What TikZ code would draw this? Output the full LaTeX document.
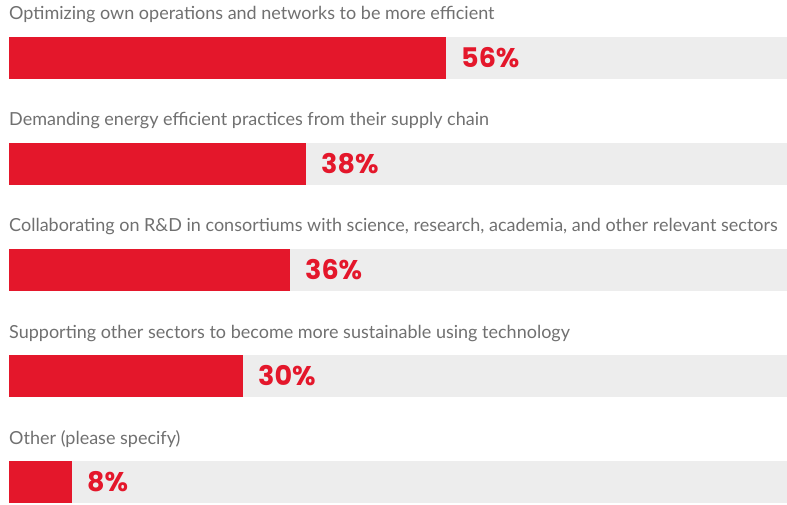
\documentclass[tikz,border=0pt]{standalone}
\usepackage{fontspec}
\setmainfont{Lato}
\newfontfamily\pctfont{Poppins}

\definecolor{barred}{HTML}{E4172B}
\definecolor{bargray}{HTML}{EDEDED}
\definecolor{labelgray}{HTML}{707070}

\tikzset{
  track/.style={fill=bargray},
  share/.style={fill=barred},
  question/.style={anchor=base west, inner sep=0pt, text=labelgray,
    font=\fontsize{18}{21}\selectfont},
  pct/.style={anchor=west, inner sep=0pt, text=barred,
    font=\pctfont\bfseries\fontsize{27}{30}\selectfont}
}

\begin{document}
\begin{tikzpicture}[x=1pt, y=-1pt]
\useasboundingbox (0,0) rectangle (787,505);
% bar 1
\node[question] (q1) at (9,20) {Optimizing own operations and networks to be more efficient};
\fill[track] (9,37) rectangle (787,79);
\fill[share] (9,37) rectangle (446,79);
\node[pct] (p1) at (461,58) {56\%};
% bar 2
\node[question] (q2) at (9,126) {Demanding energy efficient practices from their supply chain};
\fill[track] (9,143) rectangle (787,185);
\fill[share] (9,143) rectangle (306,185);
\node[pct] (p2) at (321,164) {38\%};
% bar 3
\node[question] (q3) at (9,232) {Collaborating on R\&D in consortiums with science, research, academia, and other relevant sectors};
\fill[track] (9,249) rectangle (787,291);
\fill[share] (9,249) rectangle (290,291);
\node[pct] (p3) at (305,270) {36\%};
% bar 4
\node[question] (q4) at (9,338) {Supporting other sectors to become more sustainable using technology};
\fill[track] (9,355) rectangle (787,397);
\fill[share] (9,355) rectangle (243,397);
\node[pct] (p4) at (258,376) {30\%};
% bar 5
\node[question] (q5) at (9,444) {Other (please specify)};
\fill[track] (9,461) rectangle (787,503);
\fill[share] (9,461) rectangle (72,503);
\node[pct] (p5) at (87,482) {8\%};
\end{tikzpicture}
\end{document}
